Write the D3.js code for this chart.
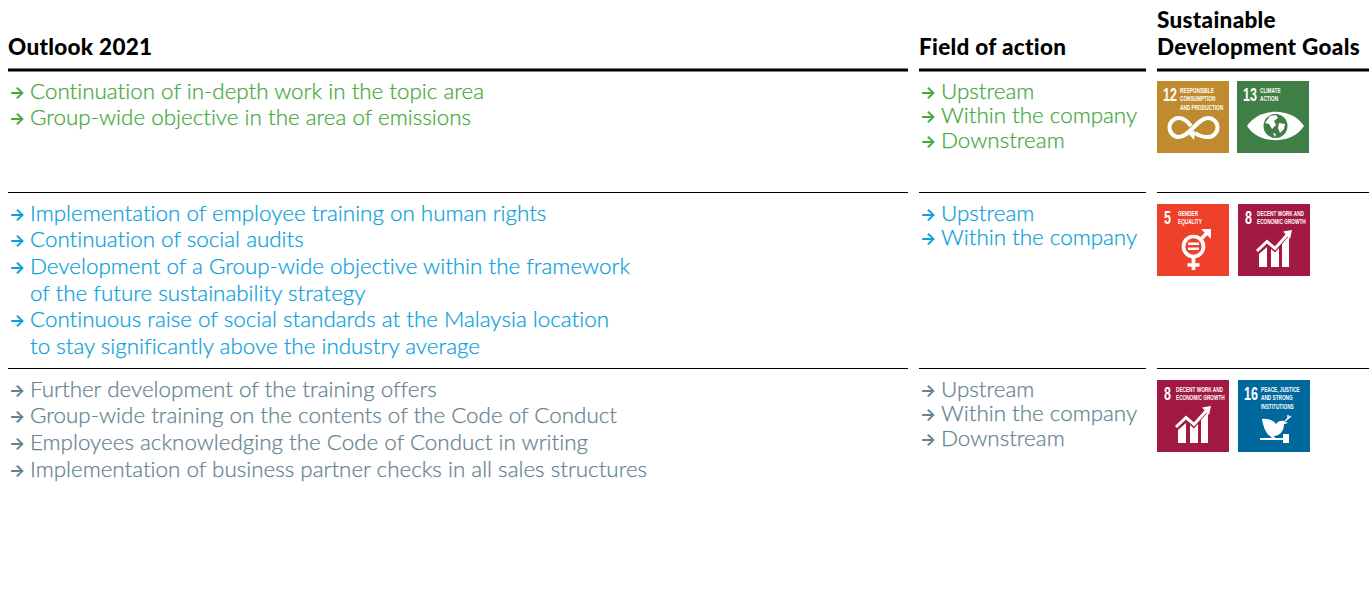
<!DOCTYPE html>
<html>

<head>
    <meta charset="utf-8">
    <script src="https://d3js.org/d3.v7.min.js"></script>
    <style>
        html, body { margin: 0; background: #fff; }
        svg { display: block; }
        .head { font-family: "Lato", sans-serif; font-size: 22.5px; font-weight: 900; letter-spacing: 0.3px; fill: #000; }
        .item { font-family: "Lato", sans-serif; font-size: 22.4px; font-weight: 300; font-variant-ligatures: none; stroke-width: 0.25px; }
        .arrow { font-family: "Inter", sans-serif; font-size: 17px; font-weight: 700; }
        .goal { font-family: "Liberation Sans", sans-serif; fill: #fff; font-weight: 700; }
    </style>
</head>

<body>
    <svg id="table" width="1370" height="594"></svg>
    <script>
        // section contents, one array per cell
        const outlook1 = ["Continuation of in-depth work in the topic area", "Group-wide objective in the area of emissions"];
        const outlook2 = ["Implementation of employee training on human rights", "Continuation of social audits",
            "Development of a Group-wide objective within the framework", "+of the future sustainability strategy",
            "Continuous raise of social standards at the Malaysia location", "+to stay significantly above the industry average"];
        const outlook3 = ["Further development of the training offers", "Group-wide training on the contents of the Code of Conduct",
            "Employees acknowledging the Code of Conduct in writing", "Implementation of business partner checks in all sales structures"];
        const fields1 = ["Upstream", "Within the company", "Downstream"];
        const fields2 = ["Upstream", "Within the company"];
        const fields3 = ["Upstream", "Within the company", "Downstream"];
        const goals1 = [12, 13];
        const goals2 = [5, 8];
        const goals3 = [8, 16];

        const goalInfo = {
            5: { color: "#ef402b", label: ["GENDER", "EQUALITY"] },
            8: { color: "#a21942", label: ["DECENT WORK AND", "ECONOMIC GROWTH"] },
            12: { color: "#bf8b2e", label: ["RESPONSIBLE", "CONSUMPTION", "AND PRODUCTION"] },
            13: { color: "#3f7e44", label: ["CLIMATE", "ACTION"] },
            16: { color: "#00689d", label: ["PEACE, JUSTICE", "AND STRONG", "INSTITUTIONS"] }
        };

        const svg = d3.select("#table");

        const cols = { outlook: [8, 908], field: [919, 1146], goals: [1157, 1369] };

        const sections = [
            { color: "#45a83c", rule: 70, ruleW: 3, left: outlook1, right: fields1, goals: goals1, top: 98.5, stepL: 26, goalY: 81, goalX: [1157, 1237] },
            { color: "#0aa0dc", rule: 192.5, ruleW: 1, left: outlook2, right: fields2, goals: goals2, top: 220.5, stepL: 26.7, goalY: 204, goalX: [1157, 1238] },
            { color: "#64838f", rule: 368.5, ruleW: 1, left: outlook3, right: fields3, goals: goals3, top: 396.5, stepL: 26.7, goalY: 380, goalX: [1157, 1238] }
        ];
        const stepR = 24.5;

        // header
        svg.append("text").attr("class", "head").attr("x", 8).attr("y", 55).text("Outlook 2021");
        svg.append("text").attr("class", "head").attr("x", 919).attr("y", 55).text("Field of action");
        svg.append("text").attr("class", "head").attr("x", 1157).attr("y", 28).text("Sustainable");
        svg.append("text").attr("class", "head").attr("x", 1157).attr("y", 55).text("Development Goals");

        function drawList(g, items, x, top, step, color) {
            items.forEach((d, i) => {
                const y = top + i * step;
                const cont = d[0] === "+";
                if (!cont) {
                    g.append("text").attr("class", "arrow").attr("x", x + 1).attr("y", y - 1).attr("fill", color).text("→");
                }
                g.append("text").attr("class", "item").attr("x", x + 22).attr("y", y)
                    .attr("fill", color).attr("stroke", color)
                    .text(cont ? d.slice(1) : d);
            });
        }

        // little white pictograms, 72 x 72 box
        function glyph(g, n) {
            if (n === 12) {
                g.append("path").attr("d", "M38 52C42 55 46 56 51 56a9.500 9.500 0 0 0 0-19C41 37 32 56 22 56a9.500 9.500 0 0 1 0-19C27 37 31 41 34 45")
                    .attr("fill", "none").attr("stroke", "#fff").attr("stroke-width", 4);
                g.append("path").attr("d", "M30 51l8-1-1 9z").attr("fill", "#fff");
            } else if (n === 13) {
                g.append("path").attr("d", "M10 45C22 26 55 26 67 45C55 64 22 64 10 45Z").attr("fill", "#fff");
                g.append("circle").attr("cx", 38.5).attr("cy", 45).attr("r", 12).attr("fill", "#3f7e44");
                g.append("path").attr("d", "M33 35l6-1 2 3-4 3 2 4-4 4-3-5-4-1zM42 42l6 1-1 5-4 4-2-5zM36 52l3 1-1 3z").attr("fill", "#fff");
            } else if (n === 5) {
                g.append("circle").attr("cx", 36.5).attr("cy", 42.500).attr("r", 10).attr("fill", "none").attr("stroke", "#fff").attr("stroke-width", 3.7);
                g.append("path").attr("d", "M36.500 52.500V66M30.500 61H42.500M44 35L51 28").attr("stroke", "#fff").attr("stroke-width", 3.7).attr("fill", "none");
                g.append("path").attr("d", "M44 25H54V35z").attr("fill", "#fff");
                g.append("path").attr("d", "M31 38.500h11v2.500H31zM31 43.500h11v2.500H31z").attr("fill", "#fff");
            } else if (n === 8) {
                g.append("path").attr("d", "M21 63V50l8-7V63zM33 63V45l4 3.500 4-4.500V63zM44 63V40l7-8V63z").attr("fill", "#fff");
                g.append("path").attr("d", "M19 47L29 37.500 37 44.500 49 31").attr("fill", "none").attr("stroke", "#fff").attr("stroke-width", 3);
                g.append("path").attr("d", "M45 27.500L54 26 52 35z").attr("fill", "#fff");
            } else if (n === 16) {
                g.append("path").attr("d", "M24 39C30 38 36 41 38 44C40 41 43 40 46 41L50 43L46 44C46 52 41 56 36 56L37 58H34L32 56C28 54 25 46 24 39Z").attr("fill", "#fff");
                g.append("path").attr("d", "M47 41L53 36M50 38.500L50 35").attr("fill", "none").attr("stroke", "#fff").attr("stroke-width", 1.5);
                g.append("path").attr("d", "M22 58H45V60H22zM45 54H51V63H45z").attr("fill", "#fff");
            }
        }

        // no condensed font installed, so the labels get squeezed sideways
        function squeezed(g, t, x, y, size, sx) {
            g.append("text").attr("class", "goal").attr("font-size", size)
                .attr("transform", `translate(${x},${y}) scale(${sx},1)`).text(t);
        }

        function drawGoal(g, n, x, y) {
            const info = goalInfo[n];
            const icon = g.append("g").attr("transform", `translate(${x},${y})`);
            icon.append("rect").attr("width", 72).attr("height", 72).attr("fill", info.color);
            squeezed(icon, n, n > 9 ? 6 : 7, 20, 19, 0.66);
            const tx = n > 9 ? 23 : (n === 5 ? 21 : 19);
            info.label.forEach((t, i) => squeezed(icon, t, tx, 11.7 + i * 8.5, 7.5, 0.63));
            glyph(icon, n);
        }

        sections.forEach(s => {
            const g = svg.append("g");
            Object.values(cols).forEach(c => {
                g.append("line").attr("x1", c[0]).attr("x2", c[1]).attr("y1", s.rule).attr("y2", s.rule)
                    .attr("stroke", "#000").attr("stroke-width", s.ruleW);
            });
            drawList(g, s.left, 8, s.top, s.stepL, s.color);
            drawList(g, s.right, 919, s.top, stepR, s.color);
            s.goals.forEach((n, i) => drawGoal(g, n, s.goalX[i], s.goalY));
        });
    </script>
</body>

</html>
